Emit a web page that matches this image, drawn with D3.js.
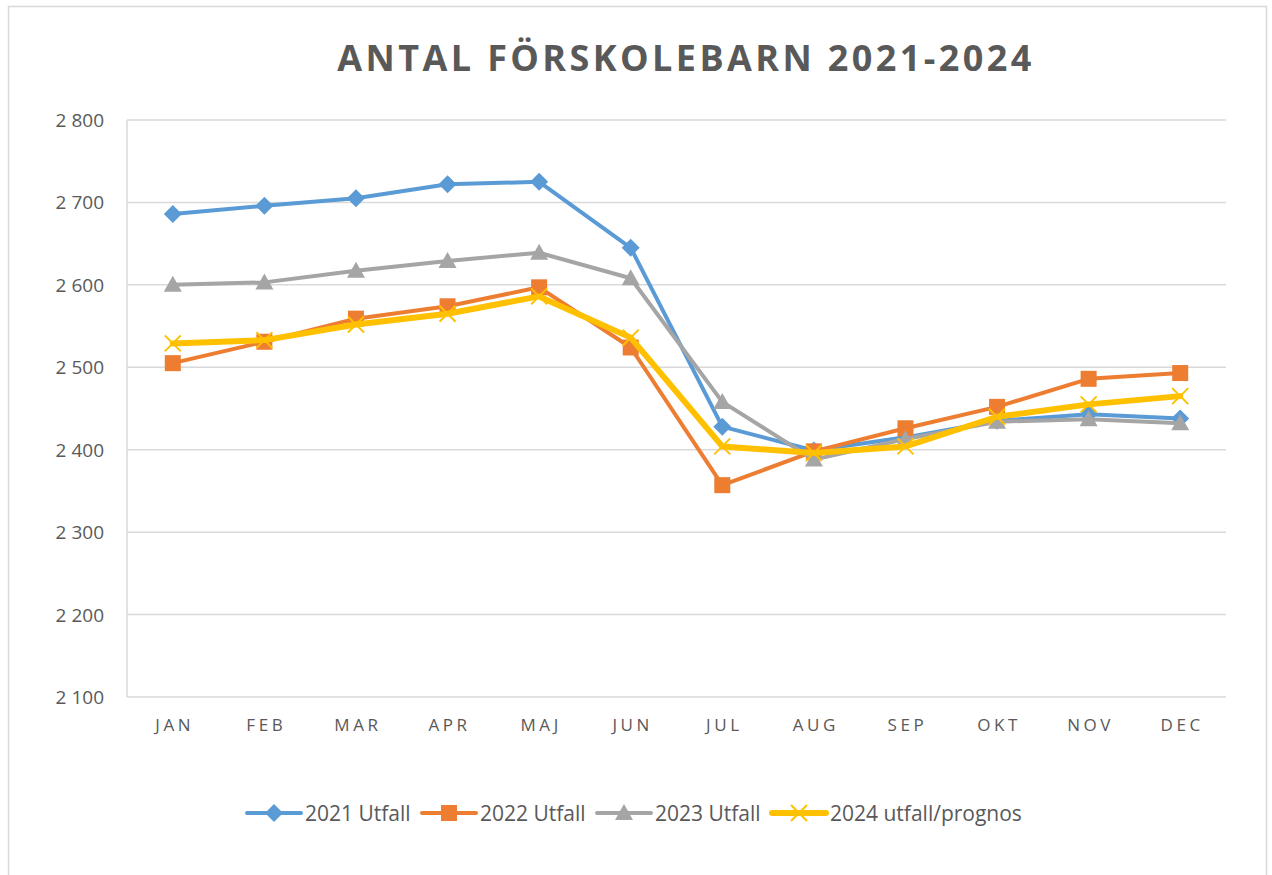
<!DOCTYPE html>
<html>
<head>
<meta charset="utf-8">
<script src="https://cdn.jsdelivr.net/npm/d3@7"></script>
<style>
body { margin: 0; background: #fff; }
text { font-family: "Open Sans", "Liberation Sans", sans-serif; fill: #595959; }
</style>
</head>
<body>
<div id="chart_container"></div>
<script>
var months = ["JAN","FEB","MAR","APR","MAJ","JUN","JUL","AUG","SEP","OKT","NOV","DEC"]
var utfall2021 = [2686,2696,2705,2722,2725,2645,2428,2399,2415,2435,2443,2438]
var utfall2022 = [2505,2531,2559,2574,2597,2524,2357,2398,2426,2452,2486,2493]
var utfall2023 = [2600,2603,2617,2629,2639,2608,2458,2388,2413,2434,2437,2432]
var utfall2024 = [2529,2533,2552,2565,2586,2536,2404,2396,2404,2440,2455,2465]
var seriesNames = ["2021 Utfall","2022 Utfall","2023 Utfall","2024 utfall/prognos"]
var seriesColors = ["#5B9BD5","#ED7D31","#A5A5A5","#FFC000"]
var yTicks = [2100,2200,2300,2400,2500,2600,2700,2800]

var W = 1272, H = 875
var plot = {left: 127, right: 1226, top: 120, bottom: 697}

var svg = d3.select("#chart_container")
    .append("svg")
        .attr("width", W)
        .attr("height", H)

// chart frame
svg.append("rect")
    .attr("x", 8.5).attr("y", 6.5)
    .attr("width", 1258).attr("height", 880)
    .style("fill", "none")
    .style("stroke", "#d9d9d9")
    .style("stroke-width", "1.5px")

svg.append("text")
    .attr("x", 686).attr("y", 71)
    .attr("text-anchor", "middle")
    .style("font-size", "36px")
    .style("font-weight", "bold")
    .style("letter-spacing", "3.4px")
    .text("ANTAL FÖRSKOLEBARN 2021-2024")

var x = d3.scaleBand().domain(months).range([plot.left, plot.right])
var y = d3.scaleLinear().domain([2100, 2800]).range([plot.bottom, plot.top])

var fmt = function(v){ return d3.format(",")(v).replace(",", " ") }

// gridlines
svg.append("g").selectAll("line").data(yTicks.slice(1)).enter()
    .append("line")
    .attr("x1", plot.left).attr("x2", plot.right)
    .attr("y1", function(d){ return y(d) }).attr("y2", function(d){ return y(d) })
    .style("stroke", "#d9d9d9").style("stroke-width", "1.5px")

// axis lines
svg.append("line")
    .attr("x1", plot.left).attr("x2", plot.right)
    .attr("y1", y(2100)).attr("y2", y(2100))
    .style("stroke", "#d9d9d9").style("stroke-width", "1.5px")
svg.append("line")
    .attr("x1", plot.left).attr("x2", plot.left)
    .attr("y1", plot.top).attr("y2", plot.bottom)
    .style("stroke", "#d9d9d9").style("stroke-width", "1.5px")

svg.append("g").selectAll("text").data(yTicks).enter()
    .append("text")
    .attr("x", 104)
    .attr("y", function(d){ return y(d) + 7 })
    .attr("text-anchor", "end")
    .style("font-size", "19px")
    .text(fmt)

svg.append("g").selectAll("text").data(months).enter()
    .append("text")
    .attr("x", function(d){ return x(d) + x.bandwidth()/2 + 2 })
    .attr("y", 731)
    .attr("text-anchor", "middle")
    .style("font-size", "17px")
    .style("letter-spacing", "3.6px")
    .text(function(d){ return d })

var allSeries = [utfall2021, utfall2022, utfall2023, utfall2024]
var widths = [4, 4, 4, 6]

function marker(g, i, cx, cy, c) {
    if (i == 0) {
        g.append("path").attr("d", "M0,-9L9,0L0,9L-9,0Z")
            .attr("transform", "translate("+cx+","+cy+")").style("fill", c)
    } else if (i == 1) {
        g.append("rect").attr("x", cx-8).attr("y", cy-8)
            .attr("width", 16).attr("height", 16).style("fill", c)
    } else if (i == 2) {
        g.append("path").attr("d", "M0,-9L9,7L-9,7Z")
            .attr("transform", "translate("+cx+","+cy+")").style("fill", c)
    } else {
        g.append("path").attr("d", "M-8,-8L8,8M8,-8L-8,8")
            .attr("transform", "translate("+cx+","+cy+")")
            .style("stroke", c).style("stroke-width", "2px").style("fill", "none")
    }
}

var line = d3.line()
    .x(function(d, i){ return x(months[i]) + x.bandwidth()/2 })
    .y(function(d){ return y(d) })

allSeries.forEach(function(vals, i){
    var g = svg.append("g")
    g.append("path")
        .attr("d", line(vals))
        .style("fill", "none")
        .style("stroke", seriesColors[i])
        .style("stroke-width", widths[i] + "px")
        .style("stroke-linejoin", "round")
        .style("stroke-linecap", "round")
    vals.forEach(function(v, k){
        marker(g, i, x(months[k]) + x.bandwidth()/2, y(v), seriesColors[i])
    })
})

// legend
var legendX = [247, 422, 597, 772]
var legend = svg.append("g")
seriesNames.forEach(function(name, i){
    var lx = legendX[i], ly = 813
    legend.append("line")
        .attr("x1", lx).attr("x2", lx + 54)
        .attr("y1", ly).attr("y2", ly)
        .style("stroke", seriesColors[i])
        .style("stroke-width", widths[i] + "px")
        .style("stroke-linecap", "round")
    marker(legend, i, lx + 27, ly, seriesColors[i])
    legend.append("text")
        .attr("x", lx + 58).attr("y", ly + 8)
        .style("font-size", "21px")
        .text(name)
})
</script>
</body>
</html>
